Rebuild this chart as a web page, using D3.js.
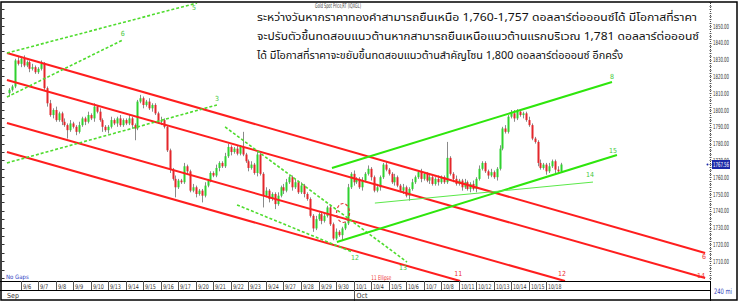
<!DOCTYPE html>
<html>
<head>
<meta charset="utf-8">
<script src="https://cdn.jsdelivr.net/npm/d3@7"></script>
<style>
  body { margin: 0; background: #fff; }
  svg { display: block; }
</style>
</head>
<body>
<div id="chart"></div>
<script>
// 4-hour bars, Gold Spot (IQXGL). open = previous close
const firstOpen = 1810;
const closes = [
  1812, 1814, 1829.5, 1827.5, 1830.5, 1826.5, 1828.5, 1824.5, 1825.5, 1822.5,
  1824.5, 1827.5, 1813, 1804, 1797, 1800, 1794, 1798, 1793, 1791,
  1788, 1792, 1790, 1787, 1791, 1795, 1793, 1797, 1795, 1802,
  1799, 1794, 1790, 1788, 1790, 1794, 1792, 1795, 1791, 1794,
  1792, 1795, 1791, 1789, 1805, 1807, 1803, 1805, 1801, 1803,
  1798, 1793, 1794, 1790, 1776, 1764.5, 1759, 1754, 1758, 1757,
  1766.5, 1763.5, 1752, 1754, 1750, 1752, 1749, 1755, 1758, 1762.5,
  1761, 1765.5, 1768.5, 1766.5, 1772.5, 1778, 1775, 1777, 1774, 1778,
  1773.5, 1769.5, 1765.5, 1767.5, 1762.5, 1773.5, 1762, 1749, 1752, 1747,
  1750, 1744, 1749, 1754, 1752, 1757, 1760, 1754, 1757, 1751,
  1755, 1750, 1747, 1737, 1729.5, 1735, 1738, 1734, 1737, 1742,
  1732, 1723.5, 1727.5, 1725.5, 1729.5, 1732.5, 1754, 1762, 1757, 1759,
  1754, 1758, 1762, 1765, 1760, 1752, 1754, 1760, 1767.5, 1764.5,
  1762, 1757, 1760, 1755, 1752, 1754, 1749, 1753, 1757, 1760,
  1763, 1759, 1762, 1758, 1760, 1756, 1759, 1757, 1760, 1757,
  1771.5, 1762, 1759, 1756, 1758, 1754, 1757, 1753, 1756, 1753,
  1759, 1765, 1768.5, 1763.5, 1761, 1763, 1760, 1765, 1777, 1789,
  1787, 1796, 1798, 1795, 1799, 1797, 1798, 1794, 1791, 1783,
  1781, 1768.5, 1765.5, 1767.5, 1763.5, 1766.5, 1769.5, 1764.5, 1763.5, 1767.56
];
// wick length above / below the body
const wickHi = [
  1, 1, 1, 2, 1, 2, 1, 1, 2, 1, 1, 2, 1, 1, 2, 1, 2, 1, 1, 2,
  1, 2, 1, 1, 2, 1, 1, 2, 1, 2, 1, 2, 1, 1, 1, 2, 1, 1, 2, 1,
  1, 2, 1, 1, 1, 2, 1, 1, 2, 1, 1, 1, 2, 1, 1, 1, 1, 2, 1, 1,
  2, 1, 1, 2, 1, 1, 1, 2, 1, 1, 1, 2, 1, 1, 2, 2, 1, 1, 2, 1,
  9, 1, 1, 2, 1, 2, 1, 1, 2, 1, 1, 1, 2, 1, 2, 2, 1, 1, 2, 1,
  2, 1, 1, 1, 1, 2, 1, 1, 2, 1, 1, 1, 2, 1, 1, 1, 2, 1, 2, 1,
  1, 2, 1, 2, 1, 1, 2, 1, 1, 2, 1, 1, 2, 1, 1, 2, 1, 1, 2, 1,
  1, 2, 1, 1, 2, 1, 1, 2, 1, 1, 9.5, 1, 1, 2, 1, 1, 2, 1, 1, 2,
  1, 2, 1, 1, 1, 2, 1, 1, 2, 1, 2, 1, 2, 2, 1.5, 1, 1, 1, 2, 1,
  1, 1, 2, 1, 1, 2, 1, 1, 2, 1
];
const wickLo = [
  2, 1, 1, 1, 2, 1, 1, 2, 1, 1, 1, 1, 1, 2, 1, 2, 1, 1, 2, 1,
  5, 1, 1, 2, 1, 1, 2, 1, 1, 2, 1, 1, 3, 1, 2, 1, 1, 2, 1, 1,
  1, 1, 2, 7, 1, 1, 2, 1, 1, 2, 1, 1, 2, 1, 1, 2, 1, 6, 1, 1,
  1, 2, 1, 1, 2, 1, 4, 1, 1, 1, 1, 1, 2, 1, 1, 1, 2, 1, 1, 1,
  1, 1, 2, 1, 1, 2, 1, 7, 1, 2, 1, 3, 1, 1, 2, 1, 1, 2, 1, 1,
  1, 2, 1, 1, 2, 1, 1, 2, 1, 1, 1, 1, 1, 1, 3.5, 1, 1, 1, 2, 1,
  1, 2, 1, 1, 2, 1, 1, 2, 1, 1, 1, 1, 2, 1, 1, 2, 1, 3, 1, 1,
  1, 2, 1, 1, 2, 1, 1, 2, 1, 1, 1, 1, 2, 1, 1, 2, 1, 1, 2, 1,
  2, 1, 1, 1, 2, 1, 1, 2, 1, 1, 1, 1, 1, 2, 1, 1, 2, 1, 1, 1,
  1, 2, 1, 1, 2, 1, 1, 2, 1, 1
];

const dateLabels = ["9/6", "9/7", "9/8", "9/9", "9/10", "9/13", "9/14", "9/15", "9/16", "9/17",
  "9/20", "9/21", "9/22", "9/23", "9/24", "9/27", "9/28", "9/29", "9/30", "10/1",
  "10/4", "10/5", "10/6", "10/7", "10/8", "10/11", "10/12", "10/13", "10/14", "10/15", "10/18"];
const monthLabels = [{ label: "Sep", day: null }, { label: "Oct", day: "10/1" }];
const priceTicks = [1850, 1840, 1830, 1820, 1810, 1800, 1790, 1780, 1770, 1760, 1750, 1740, 1730, 1720, 1710];
const lastPrice = 1767.56;

// trendlines: [bar index, price] -> [bar index, price]
const redLines = [
  { p: [[-0.7, 1833.9], [238.4, 1714.9]], label: "6" },
  { p: [[-0.7, 1817.9], [238.4, 1700.0]], label: "14" },
  { p: [[-0.7, 1792.3], [190.4, 1698.2]], label: "12" },
  { p: [[-0.7, 1775.0], [154.5, 1698.2]], label: "11" },
];
const greenDashed = [
  { p: [[-0.7, 1833.9], [64.4, 1863.7]], label: "5" },
  { p: [[-0.7, 1807.7], [39.0, 1841.7]], label: "6" },
  { p: [[-0.7, 1768.5], [71.2, 1803.0]], label: "3" },
  { p: [[74.0, 1789.9], [136.3, 1709.5]], label: "13" },
  { p: [[78.1, 1743.5], [117.5, 1715.5]], label: "12" },
];
const greenSolid = [
  { p: [[112.3, 1721.4], [208.2, 1773.2]], label: "15" },
  { p: [[110.6, 1765.5], [206.5, 1816.7]], label: "8" },
];
const greenThin = [
  { p: [[125.3, 1744.6], [200.0, 1757.1]], label: "14" },
];
const ellipse = { i: 114.4, p: 1738.7, label: "11 Ellipse", labelAt: [127.5, 1699] };

const textLines = [
  "ระหว่างวันหากราคาทองคำสามารถยืนเหนือ 1,760-1,757 ดอลลาร์ต่อออนซ์ได้ มีโอกาสที่ราคา",
  "จะปรับตัวขึ้นทดสอบแนวต้านหากสามารถยืนเหนือแนวต้านแรกบริเวณ 1,781 ดอลลาร์ต่อออนซ์",
  "ได้ มีโอกาสที่ราคาจะขยับขึ้นทดสอบแนวต้านสำคัญโซน 1,800 ดอลลาร์ต่อออนซ์ อีกครั้ง",
];

// layout
const width = 738;
const height = 301;
const plot = { left: 3, right: 710, top: 3, bottom: 281 };
const narrow = "'Liberation Sans Narrow', 'Arial Narrow', 'DejaVu Sans Condensed', sans-serif";

const x = d3.scaleLinear().domain([0, closes.length - 1]).range([9, 9 + 2.92 * (closes.length - 1)]);
const y = d3.scaleLinear().domain([1710, 1850]).range([261.2, 26]);

const bars = closes.map((c, i) => {
  const o = i === 0 ? firstOpen : closes[i - 1];
  return { i, o, c, h: Math.max(o, c) + wickHi[i], l: Math.min(o, c) - wickLo[i] };
});

const svg = d3.select("#chart").append("svg")
  .attr("width", width)
  .attr("height", height)
  .attr("viewBox", [0, 0, width, height]);

svg.append("rect").attr("width", width).attr("height", height).attr("fill", "#fff");

svg.append("clipPath").attr("id", "clip")
  .append("rect")
  .attr("x", plot.left).attr("y", plot.top)
  .attr("width", plot.right - plot.left - 1).attr("height", plot.bottom - plot.top);

const g = svg.append("g").attr("clip-path", "url(#clip)");

// candles
const candle = g.append("g").selectAll("g").data(bars).join("g");
candle.append("line")
  .attr("x1", (d) => Math.round(x(d.i)) + 0.5).attr("x2", (d) => Math.round(x(d.i)) + 0.5)
  .attr("y1", (d) => y(d.h)).attr("y2", (d) => y(d.l))
  .attr("stroke", "#8a8a8a").attr("stroke-width", 1);
candle.append("rect")
  .attr("x", (d) => Math.round(x(d.i)) - 0.5)
  .attr("width", 2)
  .attr("y", (d) => y(Math.max(d.o, d.c)))
  .attr("height", (d) => Math.max(1, Math.abs(y(d.o) - y(d.c))))
  .attr("fill", (d) => (d.c >= d.o ? "#2fd12f" : "#e3262b"));

const lineGen = (d) => d3.line().x((p) => x(p[0])).y((p) => y(p[1]))(d.p);

// red channel
g.append("g").selectAll("path").data(redLines).join("path")
  .attr("d", lineGen).attr("fill", "none")
  .attr("stroke", "#ff1e1e").attr("stroke-width", 2);

// green dashed lines
g.append("g").selectAll("path").data(greenDashed).join("path")
  .attr("d", lineGen).attr("fill", "none")
  .attr("stroke", "#4fdc2e").attr("stroke-width", 1.6)
  .attr("stroke-dasharray", "3,2");

// green solid rising channel
g.append("g").selectAll("path").data(greenSolid).join("path")
  .attr("d", lineGen).attr("fill", "none")
  .attr("stroke", "#2ee60c").attr("stroke-width", 2);

g.append("g").selectAll("path").data(greenThin).join("path")
  .attr("d", lineGen).attr("fill", "none")
  .attr("stroke", "#5be84a").attr("stroke-width", 1);

// ellipse
g.append("ellipse")
  .attr("cx", x(ellipse.i)).attr("cy", y(ellipse.p))
  .attr("rx", 6.5).attr("ry", 9.5)
  .attr("fill", "none").attr("stroke", "#e43a3a")
  .attr("stroke-width", 1.2).attr("stroke-dasharray", "3,2");

// line labels (offset from the line end)
const labelOffsets = {
  red: [[-1, 6], [-4, 0], [-3, -5], [-2, -5]],
  dashed: [[-3, 7], [0, -4], [0, -4], [-4, 8], [3, 8]],
  solid: [[-4, -2], [0, -3]],
  thin: [[-3, -5]],
};
function addLabels(data, offs, color) {
  g.append("g").selectAll("text").data(data).join("text")
    .attr("x", (d, k) => x(d.p[1][0]) + offs[k][0])
    .attr("y", (d, k) => y(d.p[1][1]) + offs[k][1])
    .attr("text-anchor", "middle")
    .attr("font-family", narrow).attr("font-size", 7)
    .attr("fill", color)
    .text((d) => d.label);
}
addLabels(redLines, labelOffsets.red, "#ee3030");
addLabels(greenDashed, labelOffsets.dashed, "#44c83a");
addLabels(greenSolid, labelOffsets.solid, "#44c83a");
addLabels(greenThin, labelOffsets.thin, "#44c83a");
g.append("text")
  .attr("x", x(ellipse.labelAt[0])).attr("y", y(ellipse.labelAt[1]))
  .attr("text-anchor", "middle")
  .attr("font-family", narrow).attr("font-size", 6.5)
  .attr("textLength", 20).attr("lengthAdjust", "spacingAndGlyphs")
  .attr("fill", "#ee3030").text(ellipse.label);

// left minor ticks
svg.append("g").selectAll("line").data(d3.range(1700, 1865, 5)).join("line")
  .attr("x1", 2).attr("x2", 4.5)
  .attr("y1", (d) => Math.round(y(d)) + 0.5).attr("y2", (d) => Math.round(y(d)) + 0.5)
  .attr("stroke", "#333").attr("stroke-width", 1);

// right axis
svg.append("line")
  .attr("x1", plot.right + 0.5).attr("x2", plot.right + 0.5)
  .attr("y1", plot.top).attr("y2", plot.bottom)
  .attr("stroke", "#444").attr("stroke-dasharray", "1,1");
svg.append("g").selectAll("line").data(d3.range(1700, 1865, 2)).join("line")
  .attr("x1", plot.right - 1).attr("x2", plot.right + 2)
  .attr("y1", (d) => Math.round(y(d)) + 0.5).attr("y2", (d) => Math.round(y(d)) + 0.5)
  .attr("stroke", "#777").attr("stroke-width", 0.6);
svg.append("g").selectAll("text").data(priceTicks).join("text")
  .attr("x", 713).attr("y", (d) => y(d) + 2.6)
  .attr("font-family", narrow).attr("font-size", 7)
  .attr("textLength", 16).attr("lengthAdjust", "spacingAndGlyphs")
  .attr("fill", "#333")
  .text((d) => d3.format(".2f")(d));

// last price marker
svg.append("rect")
  .attr("x", 712).attr("y", y(lastPrice) - 4.5)
  .attr("width", 18).attr("height", 9)
  .attr("fill", "#1d2aa8");
svg.append("text")
  .attr("x", 713).attr("y", y(lastPrice) + 2.6)
  .attr("font-family", narrow).attr("font-size", 7)
  .attr("textLength", 16).attr("lengthAdjust", "spacingAndGlyphs")
  .attr("fill", "#fff").text(d3.format(".2f")(lastPrice));
svg.append("circle")
  .attr("cx", 707.5).attr("cy", y(lastPrice)).attr("r", 1)
  .attr("fill", "#1d2aa8");

// bottom axis
svg.append("line").attr("x1", 0).attr("x2", plot.right + 1)
  .attr("y1", plot.bottom + 0.5).attr("y2", plot.bottom + 0.5).attr("stroke", "#000");
svg.append("line").attr("x1", 0).attr("x2", plot.right + 1)
  .attr("y1", 290.5).attr("y2", 290.5).attr("stroke", "#000");
svg.append("line").attr("x1", plot.right + 0.5).attr("x2", plot.right + 0.5)
  .attr("y1", plot.bottom).attr("y2", height).attr("stroke", "#000");

const dayX = (k) => Math.round(x(4 + 6 * k)) + 0.5;
const dates = svg.append("g").selectAll("g").data(dateLabels).join("g")
  .attr("transform", (d, k) => `translate(${dayX(k)},0)`);
dates.append("line").attr("y1", plot.bottom).attr("y2", 290)
  .attr("stroke", "#555");
dates.append("text").attr("x", 1.5).attr("y", 288.5)
  .attr("font-family", narrow).attr("font-size", 6.5)
  .attr("textLength", (d) => d.length * 2.7).attr("lengthAdjust", "spacingAndGlyphs")
  .attr("fill", "#333").text((d) => d);

monthLabels.forEach((m) => {
  const mx = m.day === null ? 5 : dayX(dateLabels.indexOf(m.day));
  if (m.day !== null) {
    svg.append("line").attr("x1", mx).attr("x2", mx)
      .attr("y1", 290).attr("y2", height).attr("stroke", "#555");
  }
  svg.append("text").attr("x", mx + 2).attr("y", 298)
    .attr("font-family", narrow).attr("font-size", 7)
    .attr("fill", "#333").text(m.label);
});

svg.append("text").attr("x", 6).attr("y", 278.5)
  .attr("font-family", narrow).attr("font-size", 6)
  .attr("fill", "#2c3dc4").text("No Gaps");
svg.append("text").attr("x", 714).attr("y", 294)
  .attr("font-family", narrow).attr("font-size", 7.5)
  .attr("textLength", 18).attr("lengthAdjust", "spacingAndGlyphs")
  .attr("fill", "#3040b8").text("240 mi");

// title
svg.append("text").attr("x", 315).attr("y", 8)
  .attr("font-family", narrow).attr("font-size", 6.5)
  .attr("textLength", 46).attr("lengthAdjust", "spacingAndGlyphs")
  .attr("fill", "#444").text("Gold Spot Price,RT (IQXGL)");

// commentary
const textLens = [440, 442, 366];
svg.append("g").selectAll("text").data(textLines).join("text")
  .attr("x", 257)
  .attr("y", (d, k) => 21 + 19 * k)
  .attr("font-family", "Tahoma, 'Noto Sans Thai', 'Noto Sans', 'DejaVu Sans', sans-serif")
  .attr("font-size", 11)
  .attr("fill", "#111")
  .attr("textLength", (d, k) => textLens[k])
  .attr("lengthAdjust", "spacingAndGlyphs")
  .text((d) => d);

// frame
svg.append("rect")
  .attr("x", 1).attr("y", 2).attr("width", width - 2).attr("height", height - 3)
  .attr("fill", "none").attr("stroke", "#000").attr("stroke-width", 1.5);
</script>
</body>
</html>
